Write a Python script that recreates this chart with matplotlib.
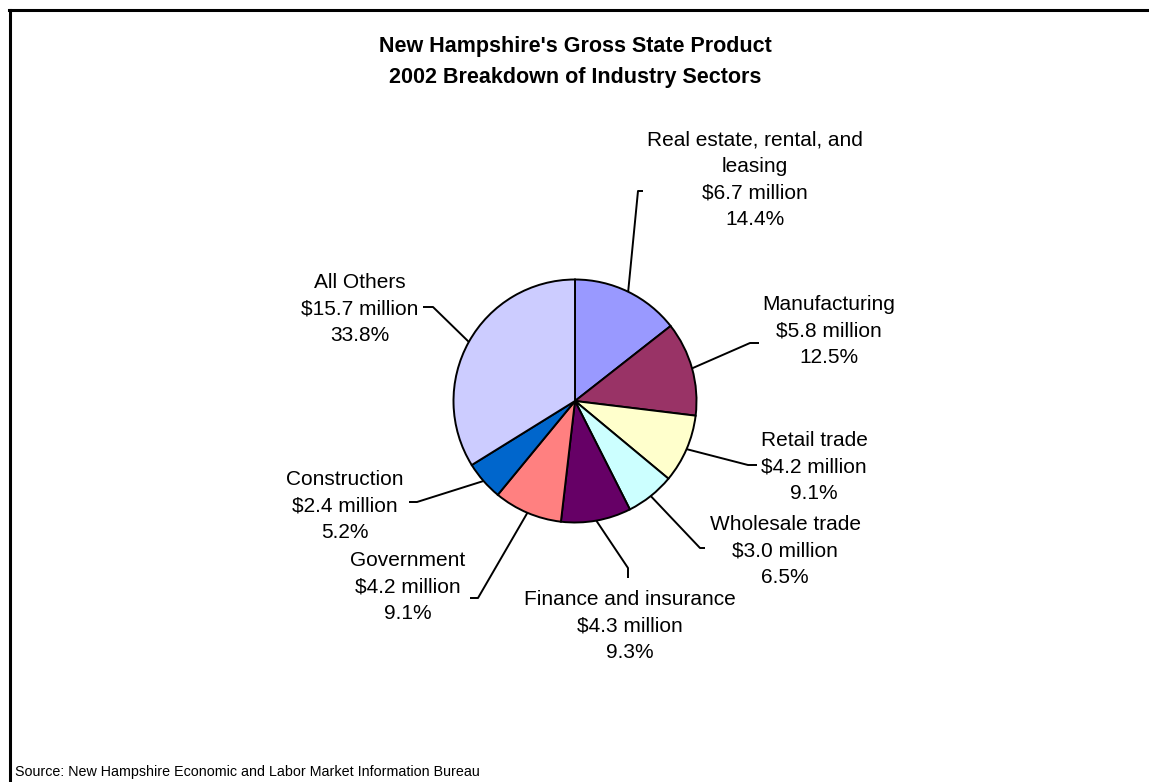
import numpy as np
import matplotlib.pyplot as plt
from matplotlib.lines import Line2D

plt.rcParams['font.family'] = ['Liberation Sans', 'DejaVu Sans']

#%% DATA

sectors = ["Real estate, rental, and\nleasing", "Manufacturing", "Retail trade",
           "Wholesale trade", "Finance and insurance", "Government",
           "Construction", "All Others"]
millions = [6.7, 5.8, 4.2, 3.0, 4.3, 4.2, 2.4, 15.7]
percents = [14.4, 12.5, 9.1, 6.5, 9.3, 9.1, 5.2, 33.8]
colors = ["#9999FF", "#993366", "#FFFFCC", "#CCFFFF",
          "#660066", "#FF8080", "#0066CC", "#CCCCFF"]

#%% LAYOUT (pixel coords, y down)

W, H = 1149, 782
center = (575, 401)
radius = 121.5

# label centre, elbow of leader, end of leader
label_xy = [(755, 180), (829, 331), (814, 467), (785, 551),
            (630, 626), (408, 587), (345, 506), (360, 309)]
elbow_xy = [(638, 191), (750, 343), (748, 465), (700, 548),
            (628, 568), (478, 598), (417, 502), (433, 307)]
end_xy = [(643, 191), (759, 343), (757, 465), (705, 548),
          (628, 578), (470, 598), (409, 502), (423, 307)]

fig = plt.figure(figsize=(W / 100, H / 100), dpi=100)
ax = fig.add_axes([0, 0, 1, 1])

wedges, _ = ax.pie(percents, colors=colors, center=center, radius=radius,
                   startangle=-90, counterclock=True,
                   wedgeprops=dict(edgecolor='black', linewidth=1.4))
ax.set_xlim(0, W)
ax.set_ylim(H, 0)
ax.set_aspect('equal')
ax.axis('off')

for w, name, m, p, lxy, exy, fxy in zip(wedges, sectors, millions, percents,
                                          label_xy, elbow_xy, end_xy):
    # leader starts on the rim at the middle of the wedge
    th = np.deg2rad((w.theta1 + w.theta2) / 2)
    sx = center[0] + radius * np.cos(th)
    sy = center[1] + radius * np.sin(th)
    ax.plot([sx, exy[0], fxy[0]], [sy, exy[1], fxy[1]], color='black', lw=1.4,
            solid_capstyle='butt')
    ax.text(lxy[0], lxy[1], f"{name}\n${m:.1f} million\n{p:.1f}%",
            ha='center', va='center', fontsize=15, linespacing=1.49)

ax.text(575, 62, "New Hampshire's Gross State Product\n2002 Breakdown of Industry Sectors",
        ha='center', va='center', fontsize=15.5, fontweight='bold', linespacing=1.62)
ax.text(15, 772, "Source: New Hampshire Economic and Labor Market Information Bureau",
        ha='left', va='center', fontsize=10.3)

# chart frame, left and top edges only
fig.add_artist(Line2D([9.5 / W, 9.5 / W], [0, 1 - 9.5 / H], color='black', lw=2.2,
                      transform=fig.transFigure))
fig.add_artist(Line2D([8.5 / W, 1], [1 - 9.5 / H, 1 - 9.5 / H], color='black', lw=2.2,
                      transform=fig.transFigure))

plt.savefig("out.png", dpi=100)
